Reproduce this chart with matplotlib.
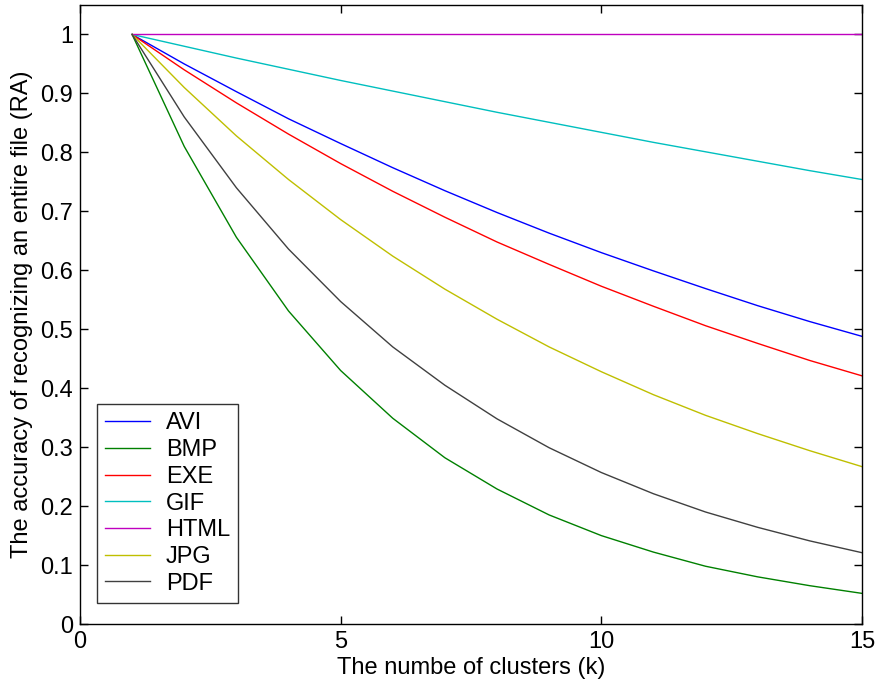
import numpy as np
import matplotlib.pyplot as plt

plt.rcParams['font.family'] = ['Liberation Sans', 'DejaVu Sans']

# number of clusters k
k = [1, 2, 3, 4, 5, 6, 7, 8, 9, 10, 11, 12, 13, 14, 15]

# accuracy of recognizing an entire file (RA)
avi = [1, 0.95, 0.903, 0.857, 0.815, 0.774, 0.735, 0.698, 0.663, 0.630, 0.599, 0.569, 0.540, 0.513, 0.488]
bmp = [1, 0.81, 0.656, 0.531, 0.430, 0.349, 0.282, 0.229, 0.185, 0.150, 0.122, 0.098, 0.080, 0.065, 0.052]
exe = [1, 0.94, 0.884, 0.831, 0.781, 0.734, 0.690, 0.648, 0.610, 0.573, 0.539, 0.506, 0.476, 0.447, 0.421]
gif = [1, 0.98, 0.960, 0.941, 0.922, 0.904, 0.886, 0.868, 0.851, 0.834, 0.817, 0.801, 0.785, 0.769, 0.754]
html = [1, 1, 1, 1, 1, 1, 1, 1, 1, 1, 1, 1, 1, 1, 1]
jpg = [1, 0.91, 0.828, 0.754, 0.686, 0.624, 0.568, 0.517, 0.470, 0.428, 0.389, 0.354, 0.323, 0.294, 0.267]
pdf = [1, 0.86, 0.740, 0.636, 0.547, 0.470, 0.405, 0.348, 0.299, 0.257, 0.221, 0.190, 0.164, 0.141, 0.121]

names = ['AVI', 'BMP', 'EXE', 'GIF', 'HTML', 'JPG', 'PDF']
colors = ['#0000ff', '#008000', '#ff0000', '#00bfbf', '#bf00bf', '#bfbf00', '#404040']

fig = plt.figure(figsize=(8.84, 6.84), dpi=100)
ax = fig.add_axes([0.0905, 0.0877, 0.8845, 0.905])

for name, ys, c in zip(names, [avi, bmp, exe, gif, html, jpg, pdf], colors):
    ax.plot(k, ys, color=c, lw=1.0, label=name)

fs = 17
ax.set_xlim(0, 15)
ax.set_ylim(0, 1.05)
ax.set_xticks([0, 5, 10, 15])
ax.set_xticklabels(['0', '5', '10', '15'])
ax.set_yticks(np.arange(0, 1.01, 0.1))
ax.set_yticklabels(['0', '0.1', '0.2', '0.3', '0.4', '0.5', '0.6', '0.7', '0.8', '0.9', '1'])
ax.tick_params(direction='in', top=True, right=True, length=6, width=1, labelsize=fs, pad=5)
for s in ax.spines.values():
    s.set_linewidth(1.0)

ax.set_xlabel('The numbe of clusters (k)', fontsize=fs, labelpad=3)
ax.set_ylabel('The accuracy of recognizing an entire file (RA)', fontsize=fs, labelpad=5)

leg = ax.legend(loc='lower left', bbox_to_anchor=(0.022, 0.034), borderaxespad=0,
                fontsize=fs, frameon=True, fancybox=False, edgecolor='black',
                handlelength=1.9, handletextpad=0.65, labelspacing=0.2, borderpad=0.35)
leg.get_frame().set_linewidth(1.0)

fig.savefig('out.png', dpi=100)
